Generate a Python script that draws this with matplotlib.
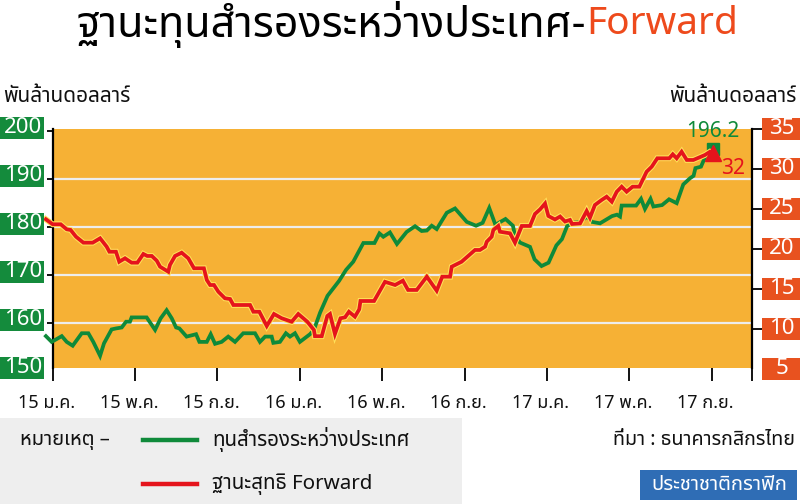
import matplotlib
matplotlib.use('Agg')
import matplotlib.pyplot as plt
from matplotlib import font_manager as fm
from matplotlib.patches import Rectangle
from matplotlib.lines import Line2D
import matplotlib.patheffects as pe

# ---------------- data ----------------
# months counted from January 2015
reserve_month = [-0.32, -0.04, 0.45, 0.69, 0.98, 1.42, 1.74, 1.98, 2.31, 2.50, 2.87, 3.08, 3.36, 3.57,
                 3.76, 3.84, 4.57, 4.98, 5.25, 5.54, 5.79, 6.00, 6.16, 6.51, 6.97, 7.13, 7.49, 7.68,
                 7.89, 8.21, 8.53, 8.86, 9.26, 9.83, 10.07, 10.32, 10.64, 10.72, 11.04, 11.33, 11.53,
                 11.77, 12.01, 12.50, 12.69, 12.99, 13.35, 13.91, 14.25, 14.60, 15.09, 15.63, 15.87,
                 16.06, 16.38, 16.72, 17.19, 17.60, 17.92, 18.17, 18.41, 18.65, 19.14, 19.54, 20.11,
                 20.56, 20.88, 21.20, 21.50, 21.99, 22.35, 22.45, 22.69, 23.18, 23.40, 23.74, 24.08,
                 24.46, 24.73, 24.98, 25.22, 25.61, 25.95, 26.19, 26.58, 27.16, 27.40, 27.55, 27.63,
                 28.33, 28.57, 28.76, 29.03, 29.17, 29.59, 29.93, 30.30, 30.62, 30.95, 31.12, 31.21,
                 31.48, 31.72, 32.06]
reserve_bn = [157.2, 156.0, 157.2, 156.0, 155.2, 157.8, 157.8, 156.0, 153.1, 155.7, 158.6, 158.8, 159.0, 160.2,
              160.2, 161.1, 161.1, 158.5, 160.9, 162.6, 160.9, 159.0, 158.8, 157.1, 157.6, 156.0, 156.0, 157.6,
              155.6, 156.0, 157.1, 156.0, 157.8, 157.8, 156.0, 157.1, 157.1, 155.8, 156.0, 157.8, 157.1,
              157.8, 156.0, 157.6, 158.5, 162.1, 165.6, 168.7, 171.0, 172.7, 176.6, 176.6, 178.6,
              177.9, 178.8, 176.4, 178.9, 180.1, 179.1, 179.2, 180.2, 179.5, 182.9, 183.8, 181.0,
              180.2, 180.8, 183.9, 180.4, 181.6, 180.2, 178.2, 176.7, 175.8, 173.2, 171.8, 172.5,
              176.1, 177.4, 180.1, 180.8, 181.0, 182.1, 181.0, 180.7, 182.2, 182.5, 182.1, 184.4,
              184.4, 185.8, 183.7, 185.8, 184.2, 184.5, 185.7, 184.9, 188.8, 190.1, 190.6, 192.2,
              192.5, 194.9, 196.2]

forward_month = [-0.32, 0.01, 0.40, 0.69, 0.88, 1.14, 1.50, 1.95, 2.31, 2.63, 2.76, 3.08, 3.24, 3.52, 3.84,
                 4.12, 4.41, 4.60, 4.82, 5.06, 5.22, 5.62, 5.70, 5.95, 6.27, 6.59, 6.87, 7.35, 7.49, 7.65,
                 7.84, 8.05, 8.37, 8.62, 8.78, 9.59, 9.75, 10.04, 10.40, 10.75, 11.13, 11.61, 11.93, 12.37,
                 12.69, 12.74, 13.07, 13.34, 13.47, 13.71, 13.98, 14.20, 14.39, 14.68, 14.89, 14.95, 15.61,
                 16.14, 16.63, 17.01, 17.26, 17.68, 18.17, 18.65, 18.92, 19.30, 19.38, 19.86, 20.51, 20.75,
                 21.00, 21.08, 21.32, 21.40, 21.64, 21.72, 22.21, 22.45, 22.78, 23.18, 23.42, 23.67, 23.91,
                 24.07, 24.39, 24.64, 24.88, 25.12, 25.22, 25.61, 25.93, 26.09, 26.33, 26.66, 26.90, 27.15,
                 27.39, 27.63, 27.87, 28.16, 28.49, 28.84, 29.09, 29.36, 29.94, 30.11, 30.30, 30.54, 30.79,
                 31.11, 31.67, 31.92, 32.06]
forward_bn = [23.71, 23.09, 23.09, 22.46, 22.38, 21.54, 20.79, 20.79, 21.34, 20.29, 19.66, 19.66, 18.41, 18.84, 18.29,
              18.29, 19.38, 19.13, 19.13, 18.54, 17.79, 17.16, 18.00, 19.13, 19.54, 18.84, 17.59, 17.59, 16.13, 15.50,
              15.50, 14.66, 13.84, 13.75, 13.00, 13.00, 12.16, 12.16, 10.38, 11.88, 11.34, 10.91, 11.88, 10.91,
              9.88, 9.10, 9.10, 11.63, 11.88, 9.38, 11.34, 11.46, 12.16, 11.54, 12.46, 13.50, 13.50,
              15.90, 15.50, 16.04, 14.88, 14.88, 16.54, 14.79, 16.54, 16.54, 17.79, 18.41, 19.88, 19.88,
              20.29, 20.91, 21.54, 22.38, 22.88, 22.16, 21.96, 20.79, 22.88, 22.88, 24.38, 24.96, 25.69,
              24.13, 23.69, 24.06, 23.44, 23.63, 23.13, 23.19, 24.75, 23.91, 25.50, 26.13, 26.54, 25.91,
              27.16, 27.79, 27.16, 27.79, 27.79, 29.66, 30.29, 31.34, 31.34, 31.84, 31.34, 32.16, 31.13,
              31.13, 31.75, 32.16, 32.00]

tick_month = [0, 4, 8, 12, 16, 20, 24, 28, 32]
tick_label = ['15 ม.ค.', '15 พ.ค.', '15 ก.ย.', '16 ม.ค.', '16 พ.ค.', '16 ก.ย.',
              '17 ม.ค.', '17 พ.ค.', '17 ก.ย.']
left_ticks = [150, 160, 170, 180, 190, 200]
right_ticks = [5, 10, 15, 20, 25, 30, 35]
reserve_last_label = '196.2'
forward_last_label = '32'

# ---------------- fonts ----------------
names = {f.name for f in fm.fontManager.ttflist}
pref = ['Noto Sans Thai', 'Noto Sans Thai UI', 'Noto Sans Thai Looped', 'Loma', 'Garuda',
        'Sarabun', 'Kinnari', 'Norasi', 'Tlwg Typo']
thai = [n for n in pref if n in names] + sorted(n for n in names if 'Thai' in n)
FAM = thai[:1] + ['Liberation Sans', 'DejaVu Sans']
plt.rcParams['font.family'] = FAM

W, H = 800, 504
fig = plt.figure(figsize=(8, 5.04), dpi=100)
fig.patch.set_facecolor('white')

def fx(x):
    return x / W

def fy(y):
    return 1 - y / H

ORANGE = '#F6B135'
GREEN = '#0F8A3A'
RED = '#E5141C'
GBOX = '#148B3C'
RBOX = '#E8521F'

L, R, T, B = 52.5, 752, 129, 368
ax = fig.add_axes([fx(L), fy(B), (R - L) / W, (B - T) / H])
ax.set_facecolor(ORANGE)
ax.set_xlim(0, (R - L) / 20.6)
ax.set_ylim(150.56, 200.35)
ax2 = ax.twinx()
ax2.set_ylim(5.125, 35)

for a in (ax, ax2):
    for s in a.spines.values():
        s.set_visible(False)
ax.spines['left'].set_visible(True)
ax.spines['left'].set_linewidth(1.6)
ax.spines['left'].set_color('black')
ax2.spines['right'].set_visible(True)
ax2.spines['right'].set_linewidth(1.6)
ax2.spines['right'].set_color('black')

# grid
for v in [160, 170, 180, 190]:
    ax.axhline(v, color='#EDEDED', lw=1.6, zorder=1)

# x ticks
ax.set_xticks(tick_month + [(R - L) / 20.6])
ax.tick_params(axis='x', direction='out', length=9, width=1.3, color='black', labelbottom=False)
ax.set_yticks(left_ticks[1:])
ax.tick_params(axis='y', direction='out', length=4, width=1.3, color='black', labelleft=False)
ax2.set_yticks(right_ticks[1:])
ax2.tick_params(axis='y', direction='out', length=7, width=1.3, color='black', labelright=False)

# x labels
for m, lab in zip(tick_month, tick_label):
    xp = ax.transData.transform((m, 160))[0] - 6
    fig.text(fx(xp), fy(403), lab, ha='center', va='center', fontsize=13, color='#111111')

# lines
ax.plot(reserve_month, reserve_bn, color=GREEN, lw=2.7, clip_on=False, zorder=3,
        solid_joinstyle='miter')
ax2.plot(forward_month, forward_bn, color=RED, lw=2.7, clip_on=False, zorder=4,
         solid_joinstyle='miter',
         path_effects=[pe.Stroke(linewidth=4.2, foreground='#FFE25A'), pe.Normal()])
ax.plot(reserve_month[-1], reserve_bn[-1], marker='s', ms=8, color=GREEN, zorder=5, clip_on=False)
ax2.plot(forward_month[-1], forward_bn[-1], marker='^', ms=11, color=RED, zorder=6, clip_on=False)

xe, ye = ax.transData.transform((reserve_month[-1], reserve_bn[-1]))
fig.text(xe / W, (ye + 17) / H, reserve_last_label, ha='center', va='center',
         fontsize=15, color=GREEN)
xr, yr = ax2.transData.transform((forward_month[-1], forward_bn[-1]))
fig.text((xr + 20) / W, (yr - 15) / H, forward_last_label, ha='center', va='center',
         fontsize=15, color=RED)

# axis label boxes
for v in left_ticks:
    yp = ax.transData.transform((0, v))[1]
    yc = yp + 3
    fig.patches.append(Rectangle((0, (yc - 11) / H), 44 / W, 22 / H, transform=fig.transFigure,
                                 facecolor=GBOX, edgecolor='none'))
    fig.text(23 / W, yc / H, str(v), ha='center', va='center', fontsize=16, color='white')
for v in right_ticks:
    yp = ax2.transData.transform((0, v))[1]
    fig.patches.append(Rectangle((762 / W, (yp - 11) / H), 40 / W, 22 / H, transform=fig.transFigure,
                                 facecolor=RBOX, edgecolor='none'))
    fig.text(782 / W, yp / H, str(v), ha='center', va='center', fontsize=16, color='white')

fig.text(fx(3), fy(97), 'พันล้านดอลลาร์', ha='left', va='center', fontsize=15, color='#111111')
fig.text(fx(797), fy(97), 'พันล้านดอลลาร์', ha='right', va='center', fontsize=15, color='#111111')

# title
fig.text(fx(586), fy(24), 'ฐานะทุนสำรองระหว่างประเทศ-', ha='right', va='center',
         fontsize=31, color='black', fontweight='medium')
fig.text(fx(586), fy(24), 'Forward', ha='left', va='center', fontsize=28, color='#EE4A1C')

# legend area
fig.patches.append(Rectangle((0, 0), 462 / W, (504 - 418) / H, transform=fig.transFigure,
                             facecolor='#EEEEEE', edgecolor='none', zorder=0))
fig.text(fx(20), fy(440), 'หมายเหตุ –', ha='left', va='center', fontsize=14.5, color='#111111')
fig.lines.append(Line2D([fx(143), fx(197)], [fy(440), fy(440)], transform=fig.transFigure,
                        color=GREEN, lw=3.2))
fig.lines.append(Line2D([fx(143), fx(197)], [fy(484), fy(484)], transform=fig.transFigure,
                        color=RED, lw=3.2))
fig.text(fx(212), fy(440), 'ทุนสำรองระหว่างประเทศ', ha='left', va='center', fontsize=14.8, color='#111111')
fig.text(fx(212), fy(484), 'ฐานะสุทธิ Forward', ha='left', va='center', fontsize=14.8, color='#111111')

fig.text(fx(795), fy(440), 'ที่มา : ธนาคารกสิกรไทย', ha='right', va='center', fontsize=14.2, color='#111111')
fig.patches.append(Rectangle((fx(640), fy(500)), 157 / W, 30 / H, transform=fig.transFigure,
                             facecolor='#2F6DB5', edgecolor='none'))
fig.text(fx(719), fy(485), 'ประชาชาติกราฟิก', ha='center', va='center', fontsize=14.5, color='white')

fig.savefig('out.png', dpi=100, facecolor='white')
